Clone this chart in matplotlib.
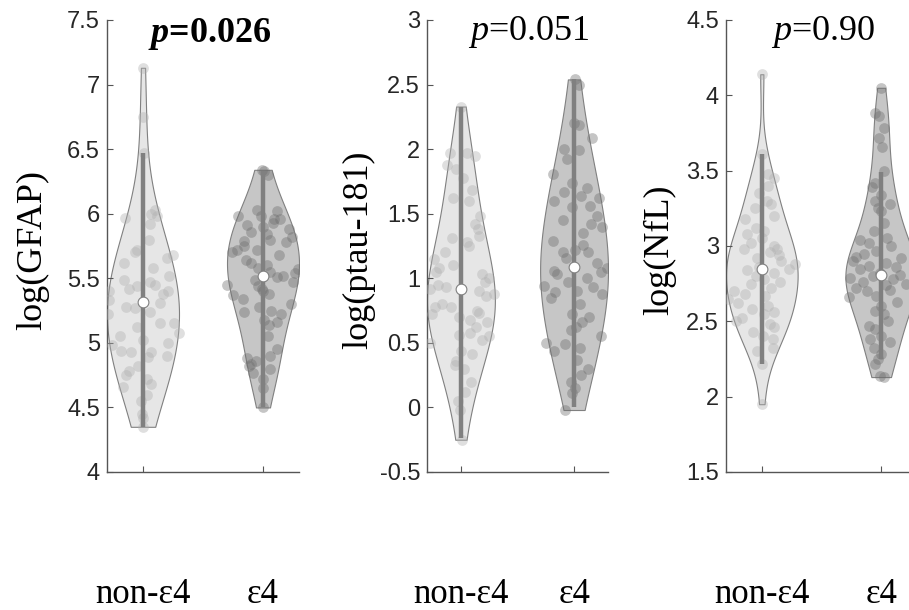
import matplotlib
matplotlib.use("Agg")
import matplotlib.pyplot as plt
import numpy as np

plt.rcParams['font.family'] = ['Liberation Sans', 'DejaVu Sans']
plt.rcParams['mathtext.fontset'] = 'custom'
plt.rcParams['mathtext.rm'] = 'Liberation Serif'
plt.rcParams['mathtext.it'] = 'Liberation Serif:italic'
plt.rcParams['mathtext.bf'] = 'Liberation Serif:bold'
plt.rcParams['mathtext.bfit'] = 'Liberation Serif:italic:bold'

groups = ['non-\u03b54', '\u03b54']

# points: (value, horizontal jitter)
gfap_non = [(7.13, 0.00), (6.75, 0.00), (6.47, 0.01), (6.03, 0.10), (6.00, 0.07),
            (5.97, -0.15), (5.98, 0.12), (5.92, 0.06), (5.80, 0.05), (5.72, -0.05),
            (5.70, -0.07), (5.68, 0.25), (5.66, 0.20), (5.62, -0.16), (5.58, 0.08),
            (5.52, 0.22), (5.49, -0.16), (5.47, 0.06), (5.45, 0.10), (5.44, -0.05),
            (5.42, -0.12), (5.40, 0.21), (5.40, -0.28), (5.38, 0.17), (5.33, -0.28),
            (5.31, 0.14), (5.28, -0.14), (5.27, -0.07), (5.24, 0.06), (5.22, -0.29),
            (5.15, 0.14), (5.15, 0.26), (5.12, -0.05), (5.08, 0.30), (5.05, -0.19),
            (5.02, 0.00), (5.00, 0.21), (4.98, -0.26), (4.94, -0.18), (4.93, -0.10),
            (4.93, 0.07), (4.90, 0.20), (4.89, 0.04), (4.82, -0.04), (4.78, -0.12),
            (4.75, -0.14), (4.72, 0.03), (4.68, 0.07), (4.66, -0.17), (4.60, 0.03),
            (4.55, -0.02), (4.45, -0.01), (4.42, 0.00), (4.35, 0.00)]
gfap_e4 = [(6.34, -0.01), (6.33, 0.01), (6.30, 0.04), (6.03, -0.05), (6.02, 0.12),
           (5.98, -0.21), (5.98, -0.02), (5.96, 0.09), (5.96, 0.14), (5.93, 0.08),
           (5.91, -0.13), (5.90, 0.00), (5.88, 0.22), (5.86, -0.10), (5.84, 0.03),
           (5.82, 0.24), (5.80, 0.06), (5.79, -0.16), (5.78, 0.19), (5.75, -0.16),
           (5.72, -0.22), (5.72, -0.05), (5.70, -0.26), (5.68, 0.13), (5.64, -0.14),
           (5.62, -0.10), (5.60, 0.03), (5.58, -0.04), (5.57, 0.29), (5.55, 0.06),
           (5.54, 0.27), (5.52, 0.17), (5.51, 0.12), (5.49, -0.07), (5.47, 0.25),
           (5.45, -0.30), (5.44, -0.04), (5.42, -0.01), (5.40, 0.00), (5.38, 0.05),
           (5.37, -0.25), (5.34, -0.17), (5.30, 0.23), (5.28, -0.03), (5.25, 0.07),
           (5.24, -0.16), (5.22, 0.15), (5.18, 0.01), (5.16, 0.12), (5.14, 0.05),
           (5.05, 0.04), (4.95, 0.12), (4.90, 0.06), (4.88, -0.13), (4.86, -0.06),
           (4.84, -0.10), (4.82, -0.12), (4.80, 0.06), (4.77, -0.08), (4.72, 0.00),
           (4.65, 0.00), (4.50, 0.00)]

ptau_non = [(2.33, 0.00), (1.97, -0.10), (1.97, 0.05), (1.95, 0.12), (1.88, -0.12),
            (1.85, -0.04), (1.78, 0.02), (1.68, 0.10), (1.62, -0.07), (1.60, 0.07),
            (1.48, 0.17), (1.42, 0.12), (1.38, 0.15), (1.33, 0.16), (1.31, -0.08),
            (1.28, 0.05), (1.25, 0.07), (1.20, -0.14), (1.15, -0.24), (1.10, -0.07),
            (1.08, -0.19), (1.05, -0.22), (1.03, 0.19), (1.00, 0.25), (0.97, 0.21),
            (0.95, -0.20), (0.93, -0.13), (0.92, -0.27), (0.90, 0.16), (0.88, 0.29),
            (0.86, 0.22), (0.80, -0.17), (0.78, -0.23), (0.78, -0.09), (0.75, 0.14),
            (0.73, 0.16), (0.72, -0.26), (0.70, -0.02), (0.68, 0.08), (0.66, 0.23),
            (0.62, 0.13), (0.58, 0.08), (0.56, -0.02), (0.55, 0.25), (0.52, 0.19),
            (0.50, -0.27), (0.44, 0.00), (0.41, 0.10), (0.36, -0.04), (0.33, -0.05),
            (0.30, 0.03), (0.20, 0.09), (0.12, 0.04), (0.05, -0.03), (-0.02, -0.01),
            (-0.25, 0.01)]
ptau_e4 = [(2.54, 0.01), (2.50, 0.04), (2.20, 0.00), (2.19, 0.04), (2.09, 0.16),
           (2.00, -0.09), (1.99, 0.04), (1.92, -0.06), (1.81, -0.19), (1.74, -0.02),
           (1.70, 0.11), (1.67, -0.09), (1.64, 0.06), (1.62, 0.22), (1.60, -0.18),
           (1.56, 0.14), (1.55, -0.02), (1.48, 0.20), (1.45, -0.10), (1.42, 0.15),
           (1.40, 0.25), (1.35, 0.08), (1.29, -0.19), (1.26, 0.08), (1.22, 0.01),
           (1.20, 0.12), (1.20, -0.10), (1.16, -0.07), (1.12, 0.20), (1.08, 0.29),
           (1.06, -0.18), (1.05, 0.24), (1.03, -0.15), (1.00, 0.11), (0.97, -0.05),
           (0.94, -0.27), (0.93, 0.17), (0.90, 0.03), (0.89, -0.17), (0.88, 0.25),
           (0.85, -0.20), (0.80, 0.05), (0.72, -0.02), (0.70, 0.13), (0.66, 0.07),
           (0.62, 0.02), (0.60, -0.03), (0.55, 0.24), (0.50, -0.25), (0.49, -0.08),
           (0.46, 0.05), (0.44, -0.18), (0.37, 0.03), (0.30, 0.12), (0.25, 0.06),
           (0.20, -0.03), (0.15, 0.01), (0.11, -0.02), (-0.02, -0.08)]

nfl_non = [(4.14, 0.00), (3.61, 0.00), (3.48, 0.05), (3.45, 0.10), (3.40, 0.05),
           (3.35, -0.02), (3.30, 0.04), (3.28, 0.08), (3.25, -0.06), (3.20, 0.10),
           (3.18, -0.14), (3.12, -0.05), (3.10, 0.02), (3.08, -0.12), (3.05, 0.00),
           (3.02, -0.09), (3.00, 0.10), (2.98, 0.13), (2.98, -0.15), (2.96, 0.07),
           (2.94, 0.14), (2.92, -0.04), (2.90, 0.16), (2.88, 0.28), (2.86, -0.02),
           (2.85, 0.23), (2.84, -0.12), (2.82, 0.10), (2.80, -0.05), (2.78, 0.02),
           (2.76, 0.15), (2.75, -0.09), (2.72, 0.08), (2.70, -0.23), (2.68, -0.14),
           (2.67, 0.03), (2.65, -0.28), (2.62, -0.20), (2.60, 0.05), (2.58, -0.08),
           (2.56, 0.10), (2.55, 0.02), (2.52, -0.17), (2.50, -0.22), (2.48, 0.07),
           (2.46, 0.10), (2.43, -0.07), (2.40, 0.01), (2.38, 0.09), (2.32, 0.09),
           (2.30, -0.04), (2.22, 0.00), (1.95, 0.00)]
nfl_e4 = [(4.05, 0.00), (3.88, -0.05), (3.86, -0.02), (3.78, 0.02), (3.72, -0.02),
          (3.66, 0.01), (3.50, 0.02), (3.42, -0.05), (3.39, -0.08), (3.34, 0.00),
          (3.30, -0.05), (3.28, 0.07), (3.25, -0.03), (3.23, 0.00), (3.15, 0.02),
          (3.10, -0.06), (3.04, -0.18), (3.05, 0.05), (3.02, -0.10), (3.00, 0.08),
          (2.97, -0.04), (2.95, -0.14), (2.93, -0.21), (2.92, 0.17), (2.90, -0.24),
          (2.89, 0.04), (2.87, -0.10), (2.86, 0.12), (2.85, -0.18), (2.83, 0.28),
          (2.82, -0.01), (2.81, 0.16), (2.80, -0.07), (2.79, -0.26), (2.78, 0.10),
          (2.76, -0.15), (2.75, 0.21), (2.74, 0.04), (2.72, -0.21), (2.71, 0.07),
          (2.70, -0.12), (2.68, 0.30), (2.67, -0.04), (2.66, -0.27), (2.63, 0.13),
          (2.60, 0.00), (2.57, -0.05), (2.55, 0.02), (2.50, 0.06), (2.47, -0.10),
          (2.45, -0.05), (2.40, 0.00), (2.38, -0.09), (2.36, 0.07), (2.32, -0.06),
          (2.28, 0.00), (2.25, -0.03), (2.22, -0.05), (2.14, -0.01), (2.13, 0.02)]

# whisker ends and medians (non-e4, e4)
gfap_lo, gfap_hi, gfap_med = [4.35, 4.50], [6.47, 6.33], [5.32, 5.52]
ptau_lo, ptau_hi, ptau_med = [-0.24, 0.00], [2.33, 2.54], [0.92, 1.09]
nfl_lo, nfl_hi, nfl_med = [2.22, 2.25], [3.61, 3.49], [2.85, 2.81]

panels = [
    dict(data=[gfap_non, gfap_e4], lo=gfap_lo, hi=gfap_hi, med=gfap_med,
         ylabel='log(GFAP)', title=r'$\mathbfit{p}$=0.026', bold=True,
         ylim=(4, 7.5), yticks=[4, 4.5, 5, 5.5, 6, 6.5, 7, 7.5], bw=0.6,
         rect=(107, 192), lab_x=-0.385, tit_x=0.536, tit_y=0.951),
    dict(data=[ptau_non, ptau_e4], lo=ptau_lo, hi=ptau_hi, med=ptau_med,
         ylabel='log(ptau-181)', title=r'$\mathit{p}$=0.051', bold=False,
         ylim=(-0.5, 3), yticks=[-0.5, 0, 0.5, 1, 1.5, 2, 2.5, 3], bw=0.6,
         rect=(427, 181), lab_x=-0.376, tit_x=0.564, tit_y=0.956),
    dict(data=[nfl_non, nfl_e4], lo=nfl_lo, hi=nfl_hi, med=nfl_med,
         ylabel='log(NfL)', title=r'$\mathit{p}$=0.90', bold=False,
         ylim=(1.5, 4.5), yticks=[1.5, 2, 2.5, 3, 3.5, 4, 4.5], bw=0.45,
         rect=(726, 191), lab_x=-0.346, tit_x=0.508, tit_y=0.956),
]

body_colors = ['#e6e6e6', '#c6c6c6']
dot_colors = ['#b0b0b0', '#6e6e6e']
axis_color = '#555555'

W, H = 909, 610
fig = plt.figure(figsize=(W / 100, H / 100), dpi=100)

for p in panels:
    left, width = p['rect']
    ax = fig.add_axes([left / W, (H - 472) / H, width / W, 452 / H])
    ys = [np.array([v for v, _ in g]) for g in p['data']]

    parts = ax.violinplot(ys, positions=[1, 2], widths=0.6, showextrema=False,
                          points=300, bw_method=p['bw'])
    for body, c in zip(parts['bodies'], body_colors):
        body.set_facecolor(c)
        body.set_edgecolor('#808080')
        body.set_linewidth(0.8)
        body.set_alpha(1)

    for i, g in enumerate(p['data']):
        yv = [v for v, _ in g]
        xv = [i + 1 + d for _, d in g]
        ax.scatter(xv, yv, s=60, color=dot_colors[i], alpha=0.4, linewidths=0,
                   zorder=3)
        ax.plot([i + 1, i + 1], [p['lo'][i], p['hi'][i]], color='#808080',
                lw=3.2, solid_capstyle='butt', zorder=4)
        ax.scatter([i + 1], [p['med'][i]], s=60, facecolor='white',
                   edgecolor='#808080', linewidths=0.8, zorder=5)

    ax.set_xlim(0.7, 2.3)
    ax.set_ylim(*p['ylim'])
    ax.set_yticks(p['yticks'])
    ax.set_yticklabels([f'{t:g}' for t in p['yticks']])
    ax.set_xticks([1, 2])
    ax.set_xticklabels(groups, fontfamily='Liberation Serif', fontsize=25)

    for s in ['top', 'right']:
        ax.spines[s].set_visible(False)
    for s in ['left', 'bottom']:
        ax.spines[s].set_color(axis_color)
        ax.spines[s].set_linewidth(1.0)
    ax.tick_params(axis='y', direction='in', length=4, width=0.8,
                   color=axis_color, labelsize=17, labelcolor='#262626', pad=5)
    ax.tick_params(axis='x', direction='in', length=4, width=0.8,
                   color=axis_color, labelcolor='black', pad=76)

    ax.set_ylabel(p['ylabel'], fontfamily='Liberation Serif', fontsize=26,
                  va='center')
    ax.yaxis.set_label_coords(p['lab_x'], 0.491)

    ax.text(p['tit_x'], p['tit_y'], p['title'], transform=ax.transAxes,
            ha='center', va='baseline', fontsize=26, fontfamily='Liberation Serif',
            fontweight='bold' if p['bold'] else 'normal')

fig.savefig('out.png', dpi=100)
